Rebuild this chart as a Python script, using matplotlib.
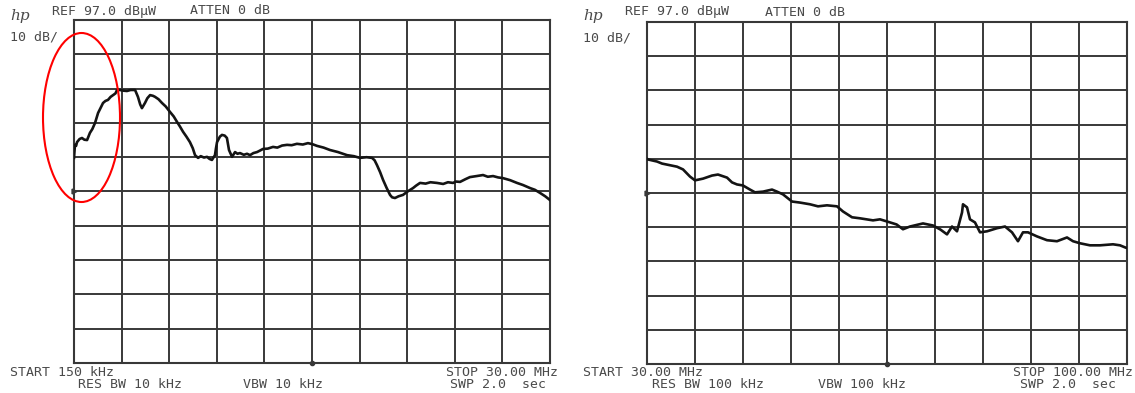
import matplotlib
matplotlib.use("Agg")
import matplotlib.pyplot as plt
from matplotlib.patches import Ellipse
import numpy as np

# Analyzer settings
ref_level = 97.0          # dBuV, top graticule line
db_per_div = 10.0
n_div = 10

# Sweep 1: 150 kHz .. 30 MHz
low_start, low_stop = 0.15, 30.0
low_freq = [0.15, 0.21, 0.28, 0.34, 0.50, 0.65, 0.80, 0.97, 1.15, 1.30, 1.47, 1.66,
            1.80, 1.97, 2.12, 2.28, 2.45, 2.60, 2.75, 2.85, 3.03, 3.25, 3.47, 3.70,
            3.98, 4.16, 4.30, 4.41, 4.60, 4.75, 4.92, 5.10, 5.23, 5.45, 5.67, 5.90,
            6.17, 6.40, 6.61, 6.80, 6.99, 7.20, 7.42, 7.60, 7.74, 7.93, 8.10, 8.30,
            8.49, 8.65, 8.80, 8.99, 9.05, 9.12, 9.30, 9.43, 9.60, 9.74, 9.87, 10.06,
            10.25, 10.40, 10.56, 10.80, 11.00, 11.19, 11.40, 11.63, 11.80, 12.00,
            12.30, 12.63, 12.90, 13.20, 13.51, 13.80, 14.13, 14.50, 14.82, 15.10,
            15.39, 15.80, 16.20, 16.70, 17.27, 17.70, 18.08, 18.50, 18.84, 19.00,
            19.15, 19.35, 19.53, 19.75, 19.97, 20.10, 20.28, 20.50, 20.78, 21.10,
            21.41, 21.60, 21.85, 22.20, 22.50, 22.91, 23.30, 23.60, 23.92, 24.10,
            24.36, 24.70, 24.98, 25.40, 25.80, 26.10, 26.43, 26.75, 27.05, 27.50,
            27.93, 28.30, 28.75, 29.05, 29.37, 29.70, 30.00]
low_level = [56.8, 60.6, 60.3, 61.4, 62.3, 62.6, 62.1, 62.0, 64.1, 65.2, 67.0, 69.9,
             71.2, 72.8, 73.4, 73.7, 74.6, 75.1, 75.6, 76.6, 76.6, 76.4, 76.3, 76.6,
             76.6, 74.6, 72.4, 71.3, 72.8, 74.2, 75.1, 74.9, 74.6, 73.9, 72.8, 71.8,
             70.2, 68.9, 67.3, 65.9, 64.4, 63.0, 61.4, 59.6, 57.6, 56.8, 57.3, 56.9,
             57.1, 56.5, 56.2, 57.6, 59.5, 61.4, 63.0, 63.5, 63.3, 62.6, 59.1, 57.1,
             58.5, 58.0, 58.2, 57.7, 58.0, 57.6, 58.2, 58.5, 58.9, 59.4, 59.5, 60.0,
             59.8, 60.4, 60.6, 60.5, 60.9, 60.7, 61.1, 60.8, 60.3, 59.8, 59.1, 58.5,
             57.6, 57.3, 56.8, 57.0, 56.8, 56.1, 54.7, 52.6, 50.4, 48.1, 46.0, 45.3,
             45.1, 45.6, 46.0, 47.1, 48.0, 48.7, 49.5, 49.3, 49.7, 49.5, 49.2, 49.7,
             49.5, 49.9, 49.8, 50.6, 51.2, 51.5, 51.8, 51.3, 51.5, 51.1, 50.9, 50.3,
             49.5, 48.9, 48.0, 47.5, 46.6, 45.6, 44.5]

# Sweep 2: 30 MHz .. 100 MHz
high_start, high_stop = 30.0, 100.0
high_freq = [30.00, 30.15, 31.46, 32.20, 32.92, 34.37, 35.25, 36.27, 37.00, 38.17,
             39.48, 40.35, 41.67, 42.40, 43.13, 44.00, 45.02, 45.75, 46.92, 48.23,
             48.96, 49.83, 51.15, 52.31, 53.77, 54.94, 56.25, 57.71, 58.58, 59.90,
             61.06, 62.96, 63.98, 65.44, 66.40, 67.33, 68.35, 70.25, 71.71, 72.80,
             73.75, 74.48, 75.21, 75.94, 76.08, 76.67, 77.10, 77.83, 78.56, 79.58,
             81.04, 82.21, 83.23, 84.10, 84.83, 85.56, 86.88, 88.33, 89.79, 91.25,
             92.13, 93.15, 94.60, 96.06, 97.96, 98.98, 99.71, 100.00]
high_level = [57.0, 56.8, 56.2, 55.6, 55.3, 54.7, 53.9, 51.8, 50.7, 51.2,
              52.1, 52.4, 51.5, 50.1, 49.5, 49.2, 48.0, 47.2, 47.4, 48.0,
              47.4, 46.6, 44.5, 44.2, 43.7, 43.1, 43.4, 43.1, 41.6, 39.9,
              39.6, 39.0, 39.3, 38.4, 37.8, 36.4, 37.2, 38.1, 37.5, 36.3,
              34.9, 37.2, 35.8, 41.3, 43.7, 42.8, 39.3, 38.4, 35.5, 35.8,
              36.7, 37.2, 35.5, 32.9, 35.5, 35.5, 34.3, 33.2, 32.9, 34.0,
              32.9, 32.3, 31.7, 31.7, 32.0, 31.7, 31.1, 30.9]

W, H = 1135, 393
fig = plt.figure(figsize=(W / 100, H / 100), dpi=100)
fig.patch.set_facecolor("white")

grid_col = "#383838"
text_col = "#4a4a4a"
mono = "DejaVu Sans Mono"


def px_axes(x0, y0, x1, y1):
    return fig.add_axes([x0 / W, 1 - y1 / H, (x1 - x0) / W, (y1 - y0) / H])


def graticule(ax, f0, f1):
    bottom = ref_level - n_div * db_per_div
    ax.set_xlim(f0, f1)
    ax.set_ylim(bottom, ref_level)
    ax.set_xticks(np.linspace(f0, f1, n_div + 1))
    ax.set_yticks(np.linspace(bottom, ref_level, n_div + 1))
    ax.grid(True, color=grid_col, lw=1.4)
    ax.tick_params(length=0, labelbottom=False, labelleft=False)
    for s in ax.spines.values():
        s.set_color(grid_col)
        s.set_linewidth(1.5)
    # reference-line markers and centre-frequency marker
    ax.plot([f0], [ref_level - 5 * db_per_div], marker=">", ms=3.5,
            color=grid_col, clip_on=False, zorder=5)
    ax.plot([(f0 + f1) / 2], [bottom], marker="o", ms=3, color=grid_col,
            clip_on=False, zorder=5)


def header(lines):
    for x, y, s, kw in lines:
        fig.text(x / W, 1 - y / H, s, color=text_col, va="center", **kw)


ax1 = px_axes(74, 20, 550, 363)
graticule(ax1, low_start, low_stop)
ax1.plot(low_freq, low_level, color="#141414", lw=1.9, zorder=4)

ax2 = px_axes(647, 22, 1127, 364)
graticule(ax2, high_start, high_stop)
ax2.plot(high_freq, high_level, color="#141414", lw=1.9, zorder=4)

tkw = dict(family=mono, fontsize=9.5)
hpkw = dict(family="DejaVu Serif", fontsize=11, style="italic")

# Left screen annotations
header([
    (10, 16, "hp", hpkw),
    (52, 11, "REF 97.0 dB\u00b5W", tkw),
    (190, 11, "ATTEN 0 dB", tkw),
    (10, 37, "10 dB/", tkw),
    (10, 373, "START 150 kHz", tkw),
    (78, 385, "RES BW 10 kHz", tkw),
    (243, 385, "VBW 10 kHz", tkw),
    (450, 385, "SWP 2.0  sec", tkw),
])
fig.text(558 / W, 1 - 373 / H, "STOP 30.00 MHz", color=text_col, va="center",
         ha="right", **tkw)

# Right screen annotations
header([
    (583, 16, "hp", hpkw),
    (625, 12, "REF 97.0 dB\u00b5W", tkw),
    (765, 12, "ATTEN 0 dB", tkw),
    (583, 38, "10 dB/", tkw),
    (583, 373, "START 30.00 MHz", tkw),
    (652, 385, "RES BW 100 kHz", tkw),
    (818, 385, "VBW 100 kHz", tkw),
    (1020, 385, "SWP 2.0  sec", tkw),
])
fig.text(1133 / W, 1 - 373 / H, "STOP 100.00 MHz", color=text_col, va="center",
         ha="right", **tkw)

# Highlight of the low-frequency rise
fig.patches.append(Ellipse((81.5 / W, 1 - 117.5 / H), 77 / W, 169 / H,
                           transform=fig.transFigure, fill=False,
                           edgecolor="red", lw=1.5, zorder=10))

fig.savefig("out.png", dpi=100, facecolor="white")
